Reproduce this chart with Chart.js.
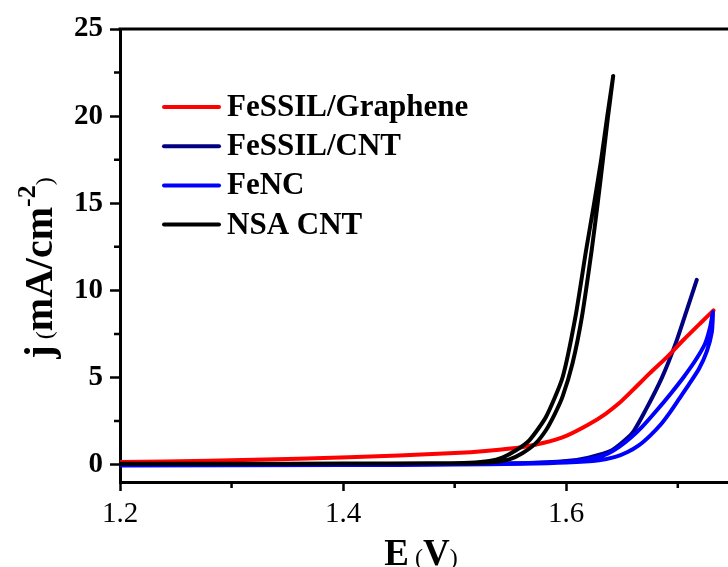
<!DOCTYPE html>
<html>
<head>
<meta charset="utf-8">
<script src="https://cdn.jsdelivr.net/npm/chart.js@4"></script>
<style>
  html, body { margin: 0; padding: 0; background: #fff; }
  #wrap { width: 728px; height: 567px; }
</style>
</head>
<body>
<div id="wrap"><canvas id="chart" width="728" height="567"></canvas></div>
<script>
// series names and colours (legend order)
const seriesNames = ['FeSSIL/Graphene', 'FeSSIL/CNT', 'FeNC', 'NSA CNT'];
const seriesColors = ['#ff0000', '#000080', '#0000ff', '#000000'];

// FeSSIL/Graphene
const grapheneE = [1.2, 1.28, 1.36, 1.45, 1.50, 1.53, 1.56, 1.58, 1.60, 1.62, 1.635, 1.647, 1.66, 1.675, 1.69, 1.705, 1.72, 1.732];
const grapheneJ = [0.15, 0.22, 0.33, 0.52, 0.66, 0.80, 1.00, 1.25, 1.65, 2.30, 2.90, 3.50, 4.30, 5.25, 6.15, 7.15, 8.10, 8.85];

// FeSSIL/CNT
const cntE = [1.2, 1.4, 1.5, 1.56, 1.60, 1.62, 1.641, 1.659, 1.671, 1.686, 1.698, 1.708, 1.717];
const cntJ = [-0.02, 0.0, 0.03, 0.08, 0.20, 0.40, 0.82, 1.79, 3.11, 5.02, 6.94, 8.85, 10.6];

// FeNC (forward then reverse scan)
const fencE = [1.2, 1.4, 1.5, 1.56, 1.60, 1.6295, 1.644, 1.655, 1.665, 1.675, 1.6847, 1.693, 1.701, 1.71, 1.719, 1.726, 1.7305, 1.7315,
               1.729, 1.7245, 1.716, 1.705, 1.6936, 1.681, 1.668, 1.658, 1.6474, 1.638, 1.6295, 1.61, 1.58, 1.5, 1.4, 1.2];
const fencJ = [-0.05, -0.03, 0.0, 0.05, 0.12, 0.25, 0.44, 0.72, 1.10, 1.65, 2.30, 3.00, 3.75, 4.60, 5.50, 6.50, 7.60, 8.75,
               7.90, 6.95, 6.00, 5.00, 4.07, 3.10, 2.16, 1.55, 1.01, 0.65, 0.44, 0.22, 0.10, 0.02, 0.0, -0.02];

// NSA CNT (forward then reverse scan)
const nsaE = [1.2, 1.3, 1.4, 1.48, 1.5132, 1.5356, 1.549, 1.5606, 1.5723, 1.5818, 1.5897, 1.5967, 1.6056, 1.614, 1.6228, 1.6282, 1.6328, 1.6375, 1.6421,
              1.6368, 1.6312, 1.625, 1.6178, 1.6082, 1.5967, 1.5818, 1.5669, 1.555, 1.5427, 1.5311, 1.5132, 1.48, 1.4, 1.3, 1.2];
const nsaJ = [0.05, 0.05, 0.06, 0.07, 0.08, 0.15, 0.30, 0.65, 1.20, 1.97, 2.90, 3.90, 5.80, 8.46, 12.3, 15.0, 17.45, 20.0, 22.3,
              20.0, 17.45, 15.0, 12.3, 8.46, 5.00, 2.73, 1.39, 0.82, 0.40, 0.20, 0.10, 0.07, 0.06, 0.05, 0.05];

// ticks
const xTicks = [1.2, 1.4, 1.6];
const xMinor = [1.3, 1.5, 1.7];
const yTicks = [0, 5, 10, 15, 20, 25];
const yMinor = [2.5, 7.5, 12.5, 17.5, 22.5];

const SERIF = '"Liberation Serif", "Times New Roman", serif';

function pts(xs, ys) {
  return xs.map((x, i) => ({ x: x, y: ys[i] }));
}

function line(i, xs, ys, order) {
  return {
    label: seriesNames[i],
    data: pts(xs, ys),
    borderColor: seriesColors[i],
    backgroundColor: seriesColors[i],
    borderWidth: 4,
    borderCapStyle: 'round',
    borderJoinStyle: 'round',
    pointRadius: 0,
    tension: 0.2,
    fill: false,
    order: order
  };
}

// frame, minor ticks, legend and axis titles
const extras = {
  id: 'extras',
  afterDraw(chart) {
    const ctx = chart.ctx;
    const a = chart.chartArea;
    const x = chart.scales.x, y = chart.scales.y;
    ctx.save();
    ctx.strokeStyle = '#000';
    ctx.lineWidth = 3;
    ctx.beginPath();
    ctx.moveTo(a.left - 1.5, a.top);
    ctx.lineTo(a.right, a.top);
    ctx.stroke();

    ctx.lineWidth = 2.5;
    ctx.beginPath();
    yMinor.forEach(v => {
      const p = y.getPixelForValue(v);
      ctx.moveTo(a.left - 6, p);
      ctx.lineTo(a.left, p);
    });
    xMinor.forEach(v => {
      const p = x.getPixelForValue(v);
      ctx.moveTo(p, a.bottom);
      ctx.lineTo(p, a.bottom + 6);
    });
    ctx.stroke();

    // legend
    ctx.lineCap = 'round';
    ctx.lineWidth = 4;
    ctx.font = 'bold 31px ' + SERIF;
    ctx.textBaseline = 'middle';
    ctx.fillStyle = '#000';
    seriesNames.forEach((name, i) => {
      const ly = a.top + 78 + i * 39.2;
      ctx.strokeStyle = seriesColors[i];
      ctx.beginPath();
      ctx.moveTo(a.left + 44, ly);
      ctx.lineTo(a.left + 99, ly);
      ctx.stroke();
      ctx.fillText(name, a.left + 107, ly + 1);
    });

    // axis titles
    ctx.textBaseline = 'alphabetic';
    ctx.fillStyle = '#000';
    function drawParts(parts, cx, cy) {
      let total = 0;
      parts.forEach(p => { ctx.font = p.f; total += ctx.measureText(p.t).width; });
      let px = cx - total / 2;
      parts.forEach(p => {
        ctx.font = p.f;
        ctx.fillText(p.t, px, cy + (p.dy || 0));
        px += ctx.measureText(p.t).width;
      });
    }
    ctx.save();
    ctx.translate(52, 268);
    ctx.rotate(-Math.PI / 2);
    drawParts([
      { t: 'j', f: 'bold 40px ' + SERIF },
      { t: ' (', f: '24px ' + SERIF },
      { t: 'mA/cm', f: 'bold 40px ' + SERIF },
      { t: '-2', f: 'bold 26px ' + SERIF, dy: -17 },
      { t: ')', f: '24px ' + SERIF }
    ], 0, 0);
    ctx.restore();

    drawParts([
      { t: 'E', f: 'bold 37px ' + SERIF },
      { t: ' (', f: '24px ' + SERIF },
      { t: 'V', f: 'bold 37px ' + SERIF },
      { t: ')', f: '24px ' + SERIF }
    ], 421, 565);
    ctx.restore();
  }
};

new Chart(document.getElementById('chart').getContext('2d'), {
  type: 'line',
  data: {
    datasets: [
      line(0, grapheneE, grapheneJ, 3),
      line(1, cntE, cntJ, 4),
      line(2, fencE, fencJ, 2),
      line(3, nsaE, nsaJ, 1)
    ]
  },
  options: {
    responsive: false,
    animation: false,
    devicePixelRatio: 1,
    layout: { padding: { top: 29, right: 0, left: 0, bottom: 0 } },
    plugins: { legend: { display: false }, tooltip: { enabled: false } },
    scales: {
      x: {
        type: 'linear',
        min: 1.2,
        max: 1.745,
        afterFit: s => { s.height = 85; },
        afterBuildTicks: s => { s.ticks = xTicks.map(v => ({ value: v })); },
        border: { color: '#000', width: 3 },
        grid: { drawOnChartArea: false, color: '#000', tickLength: 9, tickWidth: 2.5 },
        ticks: {
          color: '#000',
          padding: 6,
          maxRotation: 0,
          font: { family: SERIF, size: 29 },
          callback: v => v.toFixed(1)
        }
      },
      y: {
        type: 'linear',
        min: -1,
        max: 25,
        afterFit: s => { s.width = 120; },
        afterBuildTicks: s => { s.ticks = yTicks.map(v => ({ value: v })); },
        border: { color: '#000', width: 3 },
        grid: { drawOnChartArea: false, color: '#000', tickLength: 10, tickWidth: 2.5 },
        ticks: {
          color: '#000',
          padding: 7,
          font: { family: SERIF, size: 29, weight: 'bold' },
          callback: v => String(v)
        }
      }
    }
  },
  plugins: [extras]
});
</script>
</body>
</html>
